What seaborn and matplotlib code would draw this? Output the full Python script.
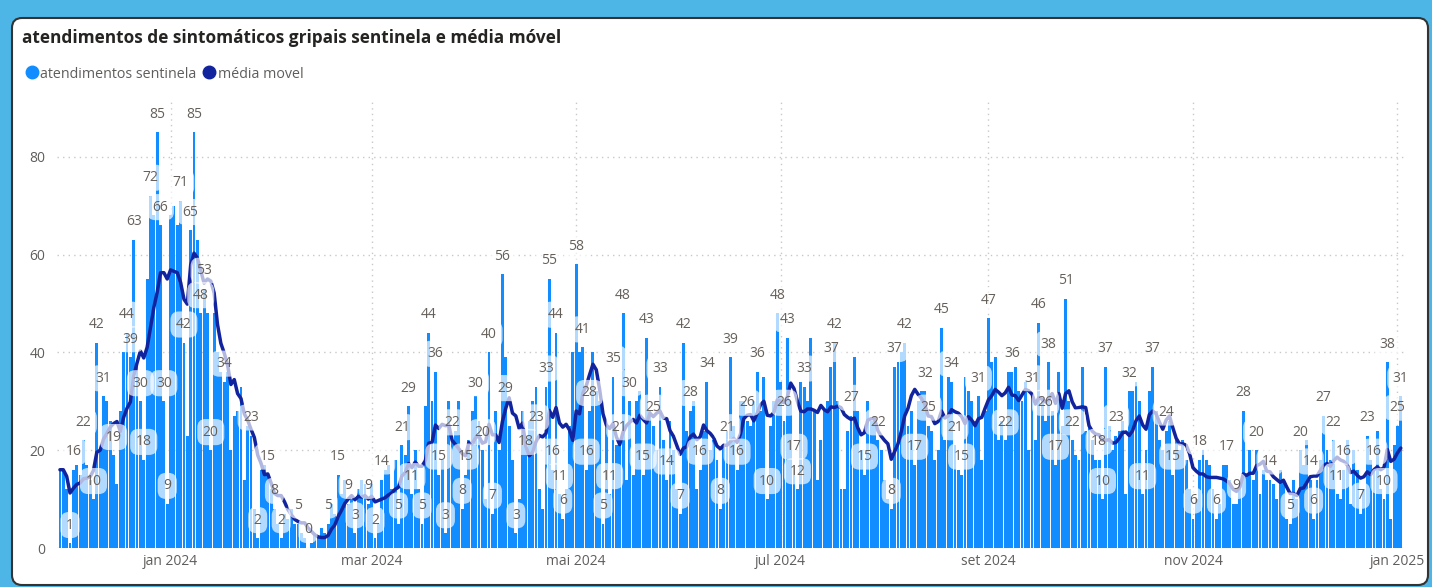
import numpy as np
import pandas as pd
import matplotlib
matplotlib.use("Agg")
import matplotlib.pyplot as plt
from matplotlib.patches import FancyBboxPatch
from matplotlib.lines import Line2D
import seaborn as sns

# daily sentinel visits, one value per day starting at start_date
start_date = "2023-11-29"

atendimentos = [
    16, 16, 12, 1, 16, 17, 15, 22, 17, 14, 10, 42, 20, 31, 30, 26, 19, 13, 28, 40,
    44, 39, 63, 38, 30, 18, 55, 72, 68, 85, 66, 30, 9,
    68, 70, 66, 71, 42, 23, 65, 85, 63, 48, 53, 48, 20, 48, 40, 36, 34, 36, 20, 27,
    28, 33, 14, 25, 23, 8, 2, 16, 17, 15, 12, 8, 5, 2, 7, 6, 8, 5,
    5, 3, 2, 0, 1, 3, 2, 4, 3, 5, 9, 7, 15, 11, 14, 9, 10, 3, 12, 14,
    13, 9, 13, 2, 5, 14, 16, 17, 12, 18, 5, 21, 19, 29, 11,
    20, 12, 5, 29, 44, 30, 36, 15, 18, 3, 30, 22, 24, 30, 8, 15, 22, 28, 31, 26,
    20, 10, 40, 7, 28, 20, 56, 39, 25, 18,
    3, 10, 28, 22, 26, 30, 33, 12, 8, 33, 55, 16, 44, 11, 6, 12, 25, 40, 58, 40,
    41, 16, 28, 40, 32, 30, 5, 25, 11, 35, 21, 21, 48, 14, 30, 15, 30, 32, 15, 43,
    28, 25,
    20, 33, 22, 14, 26, 20, 12, 7, 42, 24, 28, 30, 12, 16, 24, 34, 20, 22, 18, 8,
    21, 24, 39, 25, 16, 30, 30, 26, 25, 30, 36, 28, 35, 10, 25, 30, 48,
    34, 26, 43, 30, 17, 12, 34, 33, 30, 43, 28, 14, 22, 28, 30, 37, 42, 30, 12, 12,
    24, 27, 39, 28, 20, 15, 30, 26, 27, 22, 20, 14, 10, 8, 37, 38,
    40, 42, 25, 28, 17, 30, 32, 32, 25, 24, 18, 20, 45, 22, 35, 34, 21, 16, 15, 35,
    32, 30, 26, 31, 18, 28, 47, 38, 39, 22, 26, 22, 36, 36, 37, 32, 30, 34, 20,
    31, 22, 46, 30, 26, 38, 28, 17, 36, 25, 51, 30, 22, 19, 18, 37, 24, 25, 22, 18,
    18, 10, 37, 25, 20, 23, 24, 26, 11, 32, 32, 34, 30, 11, 20, 32, 37, 28, 22, 20, 24,
    26, 15, 22, 20, 22, 18, 12, 6, 10, 18, 20, 18, 17, 12, 6, 9, 17, 17, 14, 9,
    9, 12, 28, 15, 20, 14, 20, 11, 16, 14,
    14, 13, 10, 16, 14, 6, 5, 14, 10, 20, 17, 22, 14, 6, 14, 18, 27, 20, 18, 22,
    11, 10, 16, 22, 9, 20, 16, 7, 12, 23, 18, 16, 24, 12, 10, 38, 6, 21, 25, 31,
]

# data labels shown on the chart (day index, value)
label_days = [
    3, 4, 7, 10, 11, 13, 16, 20, 21, 22, 24, 25, 27, 29, 30, 31, 32,
    36, 37, 39, 40, 42, 43, 45, 49, 57, 59, 62, 64, 66, 71, 74, 80, 83, 86, 88,
    92, 94, 96, 101, 102, 104, 105,
    108, 110, 112, 113, 115, 117, 120, 121, 124, 126, 128, 129, 132, 133, 136, 139, 142,
    145, 146, 147, 148, 149, 150, 154, 156, 157, 158, 162, 164, 165, 167, 168, 170,
    174, 175, 177,
    179, 181, 185, 186, 188, 191, 193, 197, 199, 200, 202, 205, 208, 211, 214,
    216, 217, 219, 220, 222, 230, 231, 236, 240, 244, 248, 249, 252, 255, 258, 259,
    263, 266, 267, 269,
    274, 277, 282, 284, 290, 292, 294, 295, 297, 300, 302, 310, 311, 312, 315, 319,
    323, 326, 330, 332,
    338, 340, 345, 348, 351, 353, 357, 361, 367, 370, 373, 374, 377, 380, 381, 383,
    388, 390, 392, 395, 396, 399, 400,
]
label_values = [
    1, 16, 22, 10, 42, 31, 19, 44, 39, 63, 30, 18, 72, 85, 66, 30, 9,
    71, 42, 65, 85, 48, 53, 20, 34, 23, 2, 15, 8, 2, 5, 0, 5, 15, 9, 3,
    9, 2, 14, 5, 21, 29, 11,
    5, 44, 36, 15, 3, 22, 8, 15, 30, 20, 40, 7, 56, 29, 3, 18, 23,
    33, 55, 16, 44, 11, 6, 58, 41, 16, 28, 5, 11, 35, 21, 48, 30,
    15, 43, 25,
    33, 14, 7, 42, 28, 16, 34, 8, 21, 39, 16, 26, 36, 10, 48,
    26, 43, 17, 12, 33, 37, 42, 27, 15, 22, 8, 37, 42, 17, 32, 25,
    45, 34, 21, 15,
    31, 47, 22, 36, 31, 46, 26, 38, 17, 51, 22, 18, 10, 37, 23, 32,
    11, 37, 24, 15,
    6, 18, 6, 17, 9, 28, 20, 14, 5, 20, 14, 6, 27, 22, 11, 16,
    7, 23, 16, 10, 38, 25, 31,
]

month_ticks = ["2024-01-01", "2024-03-01", "2024-05-01", "2024-07-01",
               "2024-09-01", "2024-11-01", "2025-01-01"]
month_labels = ["jan 2024", "mar 2024", "mai 2024", "jul 2024",
                "set 2024", "nov 2024", "jan 2025"]

title = "atendimentos de sintomáticos gripais sentinela e média móvel"
legend_labels = ["atendimentos sentinela", "média movel"]

bar_color = "#118DFF"
line_color = "#12239E"
text_grey = "#605E5C"

dates = pd.date_range(start_date, periods=len(atendimentos), freq="D")
df = pd.DataFrame({"dia": np.arange(len(atendimentos)), "data": dates,
                   "atendimentos": atendimentos})
df["media_movel"] = df["atendimentos"].rolling(7, min_periods=1).mean()

sns.set_style("white")
plt.rcParams["font.family"] = ["Open Sans", "DejaVu Sans"]

W, H = 1432, 587
fig = plt.figure(figsize=(W / 100, H / 100), dpi=100, facecolor="#4db6e6")

# white card with dark border, behind the axes
card = FancyBboxPatch((0.12, 0.02), 14.16, 5.67,
                      boxstyle="round,pad=0,rounding_size=0.1",
                      transform=fig.dpi_scale_trans,
                      fc="white", ec="#333333", lw=1.5, zorder=-10)
fig.add_artist(card)

ax = fig.add_axes([56.6 / W, 39 / H, (1405.8 - 56.6) / W, 450 / H])
ax.set_zorder(1)
ax.patch.set_alpha(0)

sns.barplot(data=df, x="dia", y="atendimentos", color=bar_color, saturation=1,
            width=0.86, errorbar=None, linewidth=0, ax=ax, zorder=2)
sns.lineplot(data=df, x="dia", y="media_movel", color=line_color, lw=2.5,
             ax=ax, zorder=3)

for d, v in zip(label_days, label_values):
    ax.annotate(str(v), (d, v), xytext=(0, 13), textcoords="offset points",
                ha="center", va="center", fontsize=10, color="#66605b",
                bbox=dict(boxstyle="round,pad=0.4,rounding_size=0.6",
                          fc="white", ec="none", alpha=0.68),
                zorder=5)

ax.set_ylim(0, 92)
ax.set_xlim(-1, 401.5)
tick_pos = [int(df.index[df["data"] == pd.Timestamp(t)][0]) for t in month_ticks]
ax.set_xticks(tick_pos)
ax.set_xticklabels(month_labels)
ax.set_yticks([0, 20, 40, 60, 80])
ax.set_xlabel("")
ax.set_ylabel("")
ax.tick_params(length=0, labelsize=10, labelcolor=text_grey)
ax.tick_params(axis="y", pad=8)
ax.tick_params(axis="x", pad=4)
ax.yaxis.grid(True, linestyle=(0, (1, 3)), color="#c8c8c8", lw=1)
ax.xaxis.grid(True, linestyle=(0, (1, 3)), color="#c8c8c8", lw=1)
ax.set_axisbelow(True)
for s in ax.spines.values():
    s.set_visible(False)
if ax.get_legend() is not None:
    ax.get_legend().remove()

fig.text(22 / W, 1 - 38 / H, title, fontsize=12.4, fontweight="bold",
         color="#252423", va="center", ha="left")

handles = [Line2D([], [], marker="o", ls="", color=bar_color, ms=9),
           Line2D([], [], marker="o", ls="", color=line_color, ms=9)]
leg = fig.legend(handles, legend_labels, loc="center left",
                 bbox_to_anchor=(16 / W, 1 - 74 / H), ncol=2, frameon=False,
                 fontsize=10.3, handletextpad=0.0, columnspacing=0.3,
                 handlelength=1.2, borderpad=0)
for t in leg.get_texts():
    t.set_color(text_grey)

fig.savefig("out.png", dpi=100, facecolor=fig.get_facecolor())
